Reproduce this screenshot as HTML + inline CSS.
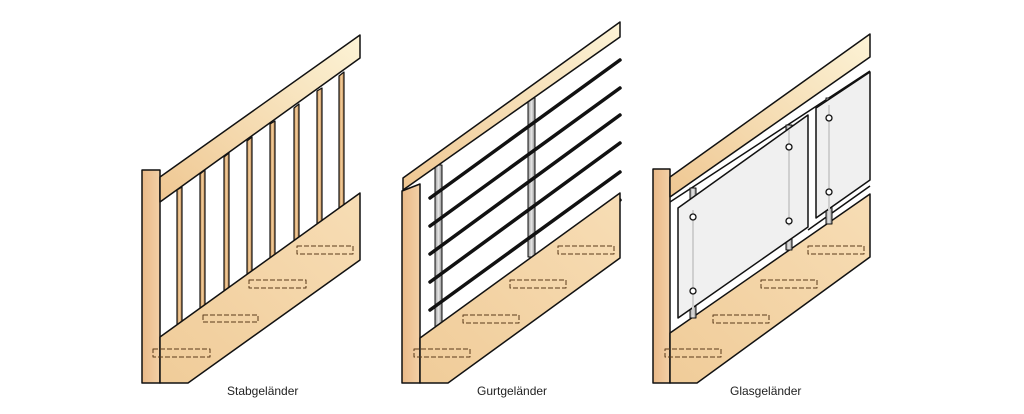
<!DOCTYPE html>
<html><head><meta charset="utf-8"><style>
html,body{margin:0;padding:0;background:#fff;}
svg{display:block;}
text{font-family:"Liberation Sans",sans-serif;font-size:12px;fill:#222;}
</style></head><body>
<svg width="1024" height="414" viewBox="0 0 1024 414" xmlns="http://www.w3.org/2000/svg">
<defs>
<linearGradient id="rail" x1="0" y1="1" x2="1" y2="0">
<stop offset="0" stop-color="#efc792"/><stop offset="1" stop-color="#fcf3d6"/></linearGradient>
<linearGradient id="str" x1="0" y1="1" x2="1" y2="0">
<stop offset="0" stop-color="#f0cc99"/><stop offset="1" stop-color="#f7ddb5"/></linearGradient>
<linearGradient id="post" x1="0" y1="0" x2="1" y2="0">
<stop offset="0" stop-color="#e9b988"/><stop offset="1" stop-color="#f3d0a6"/></linearGradient>
<linearGradient id="bar" x1="0" y1="0" x2="1" y2="0">
<stop offset="0" stop-color="#c58e52"/><stop offset="0.5" stop-color="#f3cf9e"/><stop offset="1" stop-color="#b9824a"/></linearGradient>
<linearGradient id="st" x1="0" y1="0" x2="1" y2="0">
<stop offset="0" stop-color="#999"/><stop offset="0.5" stop-color="#e8e8e8"/><stop offset="1" stop-color="#888"/></linearGradient>
</defs>
<g stroke="#111" stroke-width="1.5" stroke-linejoin="round">
<!-- Panel 1 -->
<rect x="142" y="170" width="18" height="213" fill="url(#post)"/>
<polygon points="160,177 360,35 360,58 160,202" fill="url(#rail)"/>
<g fill="url(#bar)" stroke-width="1.2">
<polygon points="177,190 182,187 182,324 177,328"/>
<polygon points="200,174 205,170 205,308 200,311"/>
<polygon points="224,157 229,153 229,290 224,294"/>
<polygon points="247,141 252,137 252,274 247,277"/>
<polygon points="270,124 275,121 275,258 270,261"/>
<polygon points="294,108 299,104 299,241 294,245"/>
<polygon points="317,91 322,88 322,225 317,228"/>
<polygon points="339,76 344,72 344,209 339,213"/>
</g>
<polygon points="160,337 360,193 360,260 188,383 160,383" fill="url(#str)"/>
<g fill="none" stroke="#5a3a1a" stroke-width="1" stroke-dasharray="5,2">
<rect x="153" y="349" width="57" height="8"/>
<rect x="203" y="315" width="55" height="7"/>
<rect x="249" y="280" width="57" height="8"/>
<rect x="297" y="246" width="56" height="8"/>
</g>
<!-- Panel 2 -->
<rect x="435" y="165" width="7" height="162" fill="url(#st)" stroke-width="1"/>
<rect x="528" y="98" width="7" height="159" fill="url(#st)" stroke-width="1"/>
<g stroke="#111" stroke-width="3.5" stroke-linecap="round">
<line x1="430" y1="198" x2="620" y2="60"/>
<line x1="430" y1="226" x2="620" y2="88"/>
<line x1="430" y1="254" x2="620" y2="115"/>
<line x1="430" y1="282" x2="620" y2="143"/>
<line x1="430" y1="310" x2="620" y2="172"/>
<line x1="470" y1="310" x2="620" y2="200"/>
</g>
<polygon points="402,191 420,184 420,383 402,383" fill="url(#post)"/>
<polygon points="403,178 620,22 620,37 403,190" fill="url(#rail)"/>
<polygon points="420,338 620,193 620,258 448,383 420,383" fill="url(#str)"/>
<g fill="none" stroke="#5a3a1a" stroke-width="1" stroke-dasharray="5,2">
<rect x="414" y="349" width="56" height="8"/>
<rect x="463" y="315" width="56" height="8"/>
<rect x="510" y="280" width="56" height="8"/>
<rect x="558" y="246" width="56" height="8"/>
</g>
<!-- Panel 3 -->
<rect x="653" y="169" width="17" height="214" fill="url(#post)"/>
<polygon points="670,177 870,34 870,57 670,197" fill="url(#rail)"/>
<line x1="670" y1="202" x2="870" y2="71" stroke-width="1.5"/>
<polygon points="670,333 870,194 870,257 697,383 670,383" fill="url(#str)"/>
<line x1="808" y1="230" x2="870" y2="186" stroke-width="1.5"/>
<g stroke-width="1">
<rect x="690" y="188" width="6" height="130" fill="url(#st)"/>
<rect x="786" y="125" width="6" height="125" fill="url(#st)"/>
<rect x="826" y="98" width="6" height="126" fill="url(#st)"/>
</g>
<polygon points="678,208 808,115 808,227 678,318" fill="#f0f0f0"/>
<polygon points="816,108 870,72 870,180 816,218" fill="#f0f0f0"/>
<g fill="#cfcfcf" stroke="none">
<rect x="692" y="210" width="2" height="105"/>
<rect x="788" y="130" width="2" height="96"/>
<rect x="828" y="105" width="2" height="105"/>
</g>
<g fill="#fff" stroke-width="1.3">
<circle cx="693" cy="217" r="3"/><circle cx="693" cy="291" r="3"/>
<circle cx="789" cy="147" r="3"/><circle cx="789" cy="221" r="3"/>
<circle cx="829" cy="118" r="3"/><circle cx="829" cy="192" r="3"/>
</g>
<g fill="none" stroke="#5a3a1a" stroke-width="1" stroke-dasharray="5,2">
<rect x="665" y="349" width="56" height="8"/>
<rect x="713" y="315" width="56" height="8"/>
<rect x="761" y="280" width="56" height="8"/>
<rect x="808" y="246" width="56" height="8"/>
</g>
</g>
<text x="227" y="395">Stabgeländer</text>
<text x="477" y="395">Gurtgeländer</text>
<text x="730" y="395">Glasgeländer</text>
</svg>
</body></html>
